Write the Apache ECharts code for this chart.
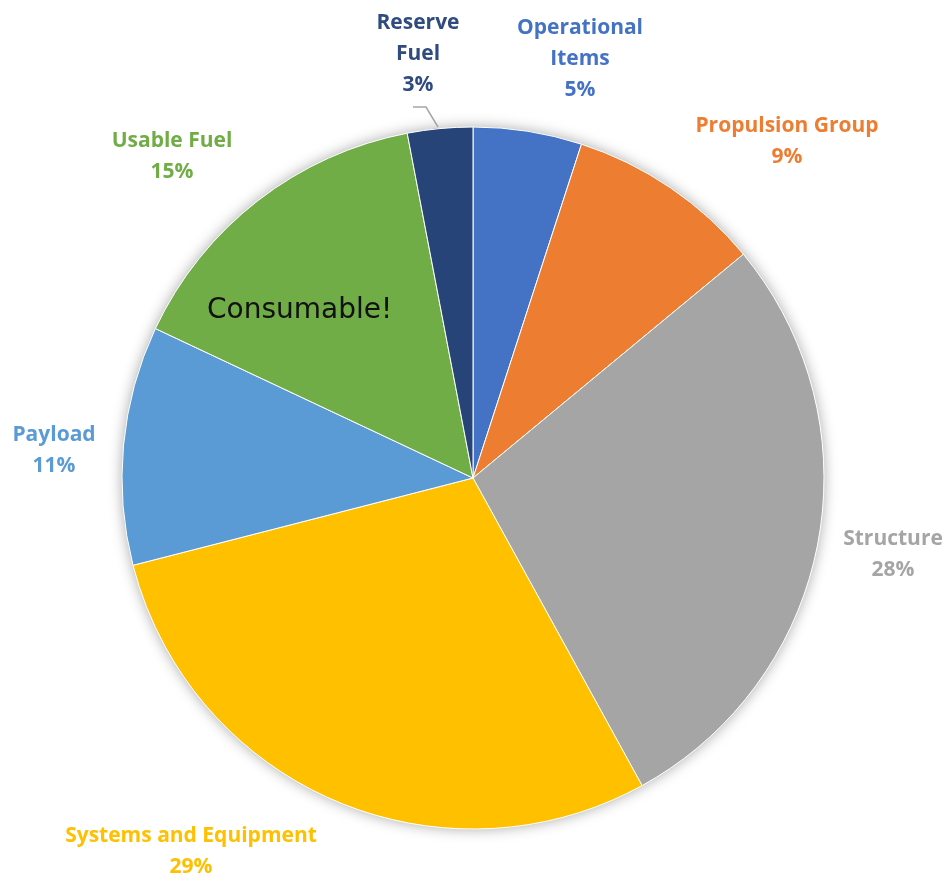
<!DOCTYPE html>
<html>
<head>
<meta charset="utf-8">
<title>Mass breakdown</title>
<script src="https://cdn.jsdelivr.net/npm/echarts@6/dist/echarts.min.js"></script>
<style>
  html, body { margin: 0; padding: 0; background: #ffffff; }
  #chart { width: 948px; height: 881px; }
</style>
</head>
<body>
<div id="chart"></div>
<script>
// Mass breakdown categories, clockwise from 12 o'clock
const categories = [
  'Operational\nItems',
  'Propulsion Group',
  'Structure',
  'Systems and Equipment',
  'Payload',
  'Usable Fuel',
  'Reserve\nFuel'
];
// Share of total mass, in percent
const shares = [5, 9, 28, 29, 11, 15, 3];
const colors = ['#4472C4', '#ED7D31', '#A5A5A5', '#FFC000', '#5B9BD5', '#70AD47', '#264478'];
const labelColors = ['#4472C4', '#ED7D31', '#A5A5A5', '#FFC000', '#5B9BD5', '#70AD47', '#2F4B7F'];

// Label block centres (px)
const labelPos = [
  [580, 59], [787, 142], [893, 555], [191, 852], [54, 451], [172, 157], [418, 54]
];

const chart = echarts.init(document.getElementById('chart'), null, { renderer: 'canvas' });

const data = categories.map((name, i) => ({
  name: name,
  value: shares[i],
  itemStyle: { color: colors[i] },
  label: { color: labelColors[i] },
  labelLine: { show: i === 6 }
}));

chart.setOption({
  animation: false,
  backgroundColor: '#ffffff',
  series: [
    {
      // soft drop shadow behind the pie
      type: 'pie',
      silent: true,
      center: [473, 478],
      radius: 351,
      label: { show: false },
      labelLine: { show: false },
      data: [{ value: 1, itemStyle: { color: '#ffffff', shadowBlur: 14, shadowColor: 'rgba(0,0,0,0.35)' } }],
      z: 1
    },
    {
      type: 'pie',
      center: [473, 478],
      radius: 351,
      startAngle: 90,
      clockwise: true,
      avoidLabelOverlap: false,
      itemStyle: { borderColor: '#ffffff', borderWidth: 1 },
      label: {
        show: true,
        position: 'outside',
        fontFamily: '"Open Sans", sans-serif',
        fontWeight: 'bold',
        fontSize: 21,
        lineHeight: 31,
        align: 'center',
        formatter: p => p.name + '\n' + p.value + '%'
      },
      labelLine: {
        lineStyle: { color: '#a6a6a6', width: 1.5 }
      },
      labelLayout: function (params) {
        const i = params.dataIndex;
        const res = {
          x: labelPos[i][0],
          y: labelPos[i][1],
          align: 'center',
          verticalAlign: 'middle'
        };
        if (i === 6) {
          res.labelLinePoints = [[413, 107], [426, 107], [438, 127]];
        }
        return res;
      },
      data: data,
      z: 2
    }
  ],
  graphic: [
    {
      type: 'text',
      left: 207,
      top: 297,
      z: 10,
      style: {
        text: 'Consumable!',
        fontFamily: '"DejaVu Sans", sans-serif',
        fontSize: 28,
        fill: '#111111'
      }
    }
  ]
});
</script>
</body>
</html>
